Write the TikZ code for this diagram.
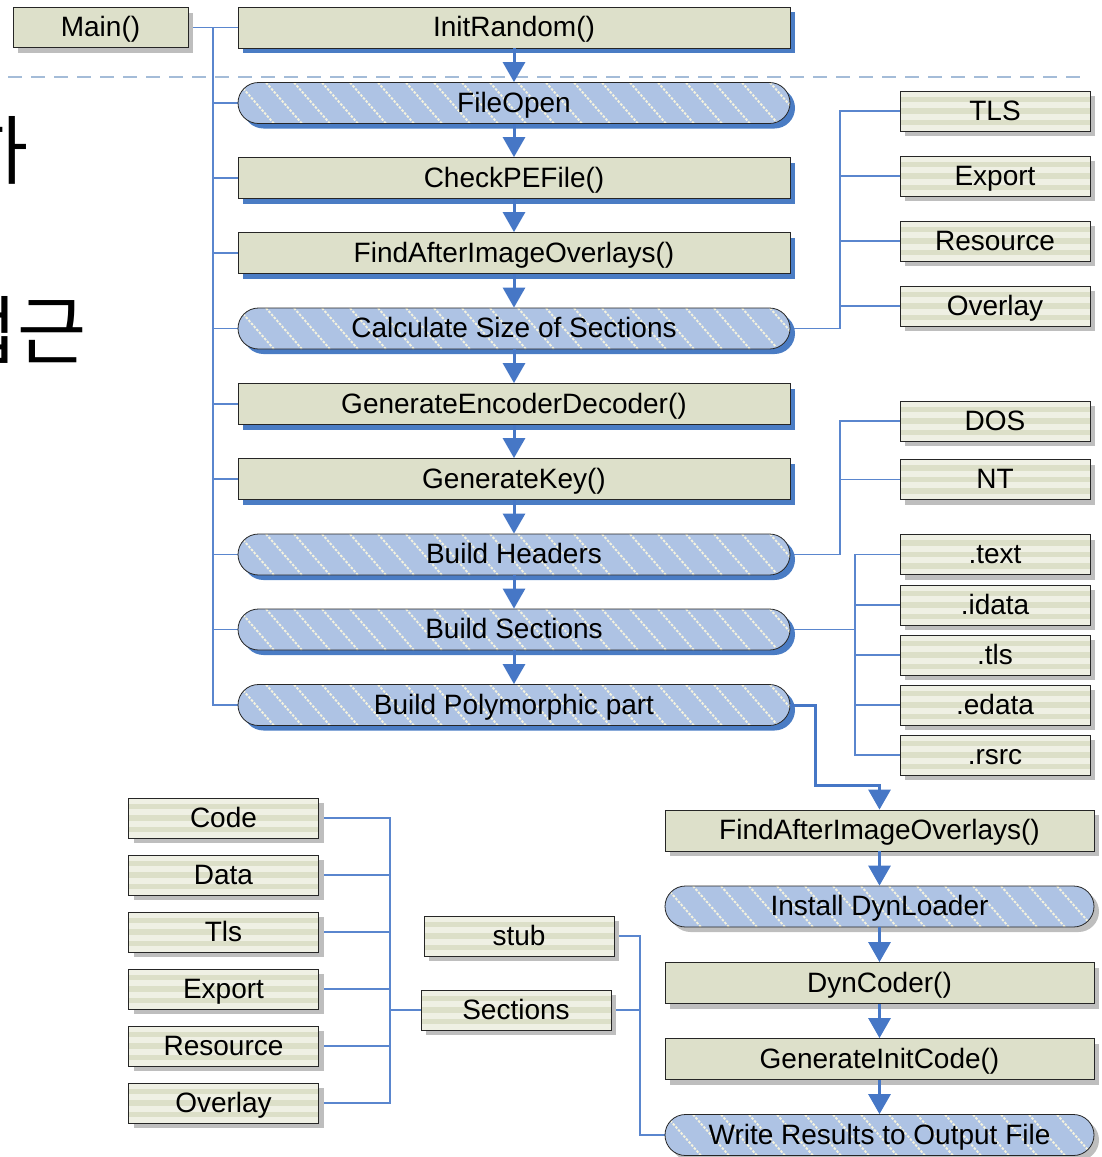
\documentclass[tikz,border=0pt]{standalone}
\usepackage{fontspec}
\setmainfont{Liberation Sans}
\newfontfamily\krfont{Noto Sans CJK KR}
\usetikzlibrary{arrows.meta,shadows,calc}
\pgfdeclarelayer{background}
\pgfsetlayers{background,main}
\definecolor{plainfill}{RGB}{221,224,202}
\definecolor{stripelight}{RGB}{239,240,228}
\definecolor{stripedark}{RGB}{220,223,200}
\definecolor{pillblue}{RGB}{174,195,228}
\definecolor{shadowblue}{RGB}{74,124,196}
\definecolor{shadowgray}{RGB}{190,190,190}
\definecolor{arrowblue}{RGB}{70,119,198}
\definecolor{thinblue}{RGB}{90,134,206}
\definecolor{dashcol}{RGB}{164,188,216}
\definecolor{hatchcol}{RGB}{245,243,222}
\tikzset{
  basebox/.style={draw=black!85, line width=0.8pt, inner sep=0pt,
    text height=19pt, text depth=1pt,
    font=\fontsize{28}{30}\selectfont, text=black},
  blueshadow/.style={drop shadow={fill=shadowblue, opacity=1, shadow xshift=5pt, shadow yshift=-5pt}},
  grayshadow/.style={drop shadow={fill=shadowgray, opacity=1, shadow xshift=5pt, shadow yshift=-5pt}},
  plainbox/.style={basebox, rectangle, fill=plainfill},
  stripebox/.style={basebox, rectangle, fill=stripelight, grayshadow,
    minimum width=190pt, minimum height=40pt,
    path picture={\foreach \k in {1,3,5}{
      \fill[stripedark] ([yshift={-\k*5.714pt}]path picture bounding box.north west)
        rectangle ([yshift={-(\k+1)*5.714pt}]path picture bounding box.north east);}}},
  pillbox/.style={basebox, rectangle, rounded corners=20.5pt, fill=pillblue,
    path picture={\foreach \k in {-3,...,36}{
      \draw[hatchcol, line width=1.9pt, dash pattern=on 2.5pt off 1.5pt]
        ([xshift={\k*28pt}]path picture bounding box.north west) -- ++(42pt,-48pt);}}},
  mainw/.style={minimum width=552pt, minimum height=41pt},
  lowerw/.style={minimum width=429pt, minimum height=41pt},
  arr/.style={arrowblue, line width=3pt, -{Triangle[width=22pt,length=20pt]}},
  conn/.style={thinblue, line width=1.4pt},
}
\begin{document}
\begin{tikzpicture}[x=1pt,y=-1pt]
\useasboundingbox (0,0) rectangle (1101,1157);
% partial Korean text at the left edge (cut by the frame, as in the reference)
\begin{scope}
\clip (0,0) rectangle (1101,1157);
\node[anchor=base east, inner sep=0pt, font=\krfont\fontsize{75}{80}\selectfont] (kr1) at (29,178) {하};
\node[anchor=base east, inner sep=0pt, font=\krfont\fontsize{75}{80}\selectfont] (kr2) at (87,358) {접근};
\end{scope}
% main column
\node[plainbox, grayshadow, minimum width=175pt, minimum height=40pt] (main) at (100.5,27.5) {Main()};
\node[plainbox, blueshadow, mainw] (init) at (514,27.5) {InitRandom()};
\node[pillbox, blueshadow, mainw] (fileopen) at (514,103) {FileOpen};
\node[plainbox, blueshadow, mainw] (checkpe) at (514,178) {CheckPEFile()};
\node[plainbox, blueshadow, mainw] (findafter) at (514,253) {FindAfterImageOverlays()};
\node[pillbox, blueshadow, mainw] (calcsize) at (514,328.5) {Calculate Size of Sections};
\node[plainbox, blueshadow, mainw] (genenc) at (514,404) {GenerateEncoderDecoder()};
\node[plainbox, blueshadow, mainw] (genkey) at (514,479) {GenerateKey()};
\node[pillbox, blueshadow, mainw] (bheaders) at (514,554.5) {Build Headers};
\node[pillbox, blueshadow, mainw] (bsections) at (514,629.5) {Build Sections};
\node[pillbox, blueshadow, mainw] (bpoly) at (514,705) {Build Polymorphic part};
% right groups
\node[stripebox] (tls) at (995,111) {TLS};
\node[stripebox] (export) at (995,176) {Export};
\node[stripebox] (resource) at (995,241) {Resource};
\node[stripebox] (overlay) at (995,306) {Overlay};
\node[stripebox] (dos) at (995,421) {DOS};
\node[stripebox] (nt) at (995,479.5) {NT};
\node[stripebox] (stext) at (995,554.5) {.text};
\node[stripebox] (sidata) at (995,605) {.idata};
\node[stripebox] (stls) at (995,655) {.tls};
\node[stripebox] (sedata) at (995,705) {.edata};
\node[stripebox] (srsrc) at (995,755) {.rsrc};
% lower right column
\node[plainbox, grayshadow, lowerw] (find2) at (879.5,830.5) {FindAfterImageOverlays()};
\node[pillbox, grayshadow, lowerw] (dyn) at (879.5,906.5) {Install DynLoader};
\node[plainbox, grayshadow, lowerw] (dyncoder) at (879.5,983) {DynCoder()};
\node[plainbox, grayshadow, lowerw] (geninit) at (879.5,1059) {GenerateInitCode()};
\node[pillbox, grayshadow, lowerw] (write) at (879.5,1135) {Write Results to Output File};
% lower left group
\node[stripebox] (code) at (223.5,818) {Code};
\node[stripebox] (data) at (223.5,875) {Data};
\node[stripebox] (tlsb) at (223.5,932) {Tls};
\node[stripebox] (exportb) at (223.5,989) {Export};
\node[stripebox] (resourceb) at (223.5,1046) {Resource};
\node[stripebox] (overlayb) at (223.5,1103) {Overlay};
\node[stripebox] (stub) at (519,936) {stub};
\node[stripebox] (sections) at (516,1010) {Sections};
% junction coordinates
\coordinate (trunk) at (213,27.5);
\coordinate (j1) at (840,328.5);
\coordinate (j2) at (840,554.5);
\coordinate (j3) at (855,629.5);
\coordinate (p1) at (815,785);
\coordinate (j4) at (390,1010);
\coordinate (j5) at (640,1010);
\begin{pgfonlayer}{background}
\draw[dashcol, line width=2pt, dash pattern=on 14pt off 9pt] (8,77) -- (1085,77);
\draw[conn] (main.east) -- (trunk) -- (init.west);
\foreach \n in {fileopen,checkpe,findafter,calcsize,genenc,genkey,bheaders,bsections,bpoly}
  \draw[conn] (trunk) |- (\n.west);
\draw[conn] (calcsize.east) -- (j1);
\foreach \n in {tls,export,resource,overlay} \draw[conn] (j1) |- (\n.west);
\draw[conn] (bheaders.east) -- (j2);
\foreach \n in {dos,nt} \draw[conn] (j2) |- (\n.west);
\draw[conn] (bsections.east) -- (j3);
\foreach \n in {stext,sidata,stls,sedata,srsrc} \draw[conn] (j3) |- (\n.west);
\foreach \n in {code,data,tlsb,exportb,resourceb,overlayb} \draw[conn] (j4) |- (\n.east);
\draw[conn] (j4) -- (sections.west);
\draw[conn] (stub.east) -| (j5) |- (write.west);
\draw[conn] (sections.east) -- (j5);
\end{pgfonlayer}
% flow arrows
\draw[arr] (init.south) -- (fileopen.north);
\draw[arr] (fileopen.south) -- (checkpe.north);
\draw[arr] (checkpe.south) -- (findafter.north);
\draw[arr] (findafter.south) -- (calcsize.north);
\draw[arr] (calcsize.south) -- (genenc.north);
\draw[arr] (genenc.south) -- (genkey.north);
\draw[arr] (genkey.south) -- (bheaders.north);
\draw[arr] (bheaders.south) -- (bsections.north);
\draw[arr] (bsections.south) -- (bpoly.north);
\draw[arr] (bpoly.east) -| (p1) -| (find2.north);
\draw[arr] (find2.south) -- (dyn.north);
\draw[arr] (dyn.south) -- (dyncoder.north);
\draw[arr] (dyncoder.south) -- (geninit.north);
\draw[arr] (geninit.south) -- (write.north);
\end{tikzpicture}
\end{document}
